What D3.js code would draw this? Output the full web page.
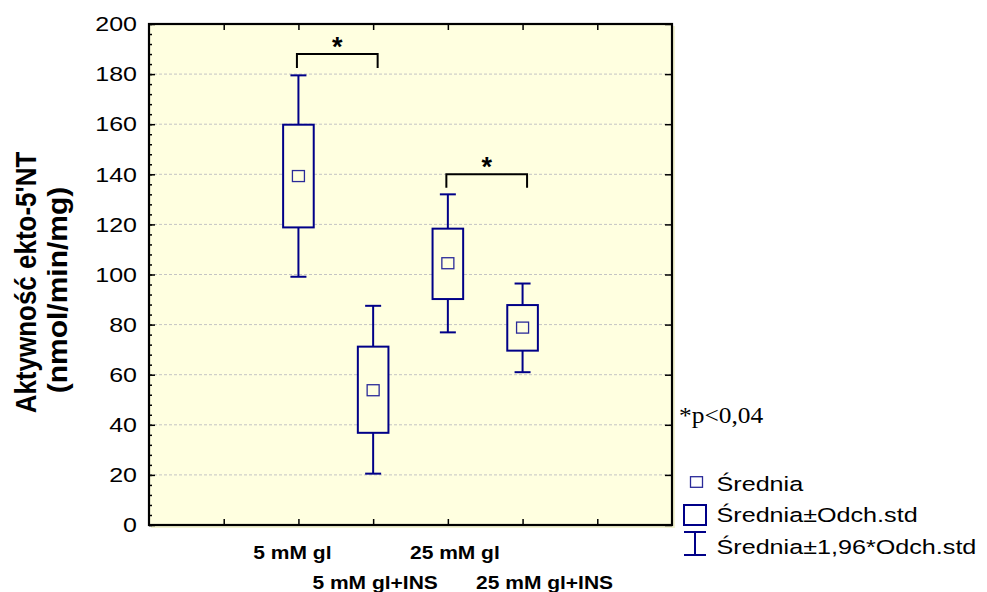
<!DOCTYPE html>
<html><head><meta charset="utf-8">
<script src="https://cdn.jsdelivr.net/npm/d3@7/dist/d3.min.js"></script>
<style>body{margin:0;background:#fff}svg{display:block}</style>
</head><body>
<svg id="chart" width="987" height="592"></svg>
<script>
const categories = ["5 mM gl", "5 mM gl+INS", "25 mM gl", "25 mM gl+INS"];
const means  = [139.3, 53.8, 104.5, 78.8];
const sdLow  = [118.8, 36.8, 90.2, 69.6];
const sdHigh = [159.8, 71.2, 118.3, 87.8];
const ciLow  = [99.1, 20.5, 76.9, 61.0];
const ciHigh = [179.5, 87.5, 132.0, 96.4];
const yTicks = [0, 20, 40, 60, 80, 100, 120, 140, 160, 180, 200];
const bracketPairs = [[0, 1], [2, 3]];
const bracketTop = [188, 140];
const bracketLeg = [182.4, 134.6];
const legendLabels = ["Średnia", "Średnia±Odch.std", "Średnia±1,96*Odch.std"];
const yTitle = ["Aktywność ekto-5'NT", "(nmol/min/mg)"];
const pNote = "*p<0,04";

const svg = d3.select("#chart");
const L = 149, R = 672, T = 24, B = 525;
const x = d3.scaleLinear().domain([0, 7]).range([L, R]);
const y = d3.scaleLinear().domain([0, 200]).range([B, T]);
const pos = i => x(i + 2);
const navy = "#000088";
const bg = "#FFFFE0";
const SX = 1.25;

// shadow + plot background
svg.append("rect").attr("x", L + 2).attr("y", T + 2).attr("width", R - L + 1).attr("height", B - T + 1).attr("fill", "#f2f2d2");
svg.append("rect").attr("x", L).attr("y", T).attr("width", R - L).attr("height", B - T).attr("fill", bg);

// grid
svg.append("g").selectAll("line").data(yTicks.filter(v => v > 0 && v < 200)).join("line")
  .attr("x1", L).attr("x2", R).attr("y1", d => y(d)).attr("y2", d => y(d))
  .attr("stroke", "#c4c4c4").attr("stroke-width", 1).attr("stroke-dasharray", "3,2");

// axes: left with minor ticks inward
const minor = d3.range(0, 201, 4);
const gl = svg.append("g").attr("transform", `translate(${L},0)`)
  .call(d3.axisRight(y).tickValues(minor).tickSize(3).tickFormat(""));
gl.select(".domain").remove();
gl.selectAll("line").attr("stroke", "#000").attr("stroke-width", 1.5);
const glM = svg.append("g").attr("transform", `translate(${L},0)`)
  .call(d3.axisRight(y).tickValues(yTicks).tickSize(6).tickFormat(""));
glM.select(".domain").remove();
glM.selectAll("line").attr("stroke", "#000").attr("stroke-width", 1.5);
// right axis
const gr = svg.append("g").attr("transform", `translate(${R},0)`)
  .call(d3.axisLeft(y).tickValues(yTicks).tickSize(7).tickFormat(""));
gr.select(".domain").remove();
gr.selectAll("line").attr("stroke", "#000").attr("stroke-width", 1.5);
// top & bottom ticks
const xt = [1, 2, 3, 4, 5, 6];
const gt = svg.append("g").attr("transform", `translate(0,${T})`)
  .call(d3.axisBottom(x).tickValues(xt).tickSize(6).tickFormat(""));
gt.select(".domain").remove();
gt.selectAll("line").attr("stroke", "#000").attr("stroke-width", 1.5);
const gb = svg.append("g").attr("transform", `translate(0,${B})`)
  .call(d3.axisTop(x).tickValues(xt).tickSize(6).tickFormat(""));
gb.select(".domain").remove();
gb.selectAll("line").attr("stroke", "#000").attr("stroke-width", 1.5);

// frame
svg.append("rect").attr("x", L).attr("y", T).attr("width", R - L).attr("height", B - T)
  .attr("fill", "none").attr("stroke", "#000").attr("stroke-width", 2.2);

// y tick labels
svg.append("g").selectAll("text").data(yTicks).join("text")
  .attr("transform", d => `translate(137,${y(d)}) scale(${SX},1)`)
  .attr("text-anchor", "end").attr("dy", "0.36em")
  .attr("font-family", "Liberation Sans, Arial, sans-serif").attr("font-size", 20)
  .attr("fill", "#000").text(d => d);

// whiskers
const gw = svg.append("g").attr("stroke", navy).attr("stroke-width", 2).attr("fill", "none");
categories.forEach((c, i) => {
  gw.append("line").attr("x1", pos(i)).attr("x2", pos(i)).attr("y1", y(ciHigh[i])).attr("y2", y(sdHigh[i]));
  gw.append("line").attr("x1", pos(i)).attr("x2", pos(i)).attr("y1", y(sdLow[i])).attr("y2", y(ciLow[i]));
  gw.append("line").attr("x1", pos(i) - 8).attr("x2", pos(i) + 8).attr("y1", y(ciHigh[i])).attr("y2", y(ciHigh[i]));
  gw.append("line").attr("x1", pos(i) - 8).attr("x2", pos(i) + 8).attr("y1", y(ciLow[i])).attr("y2", y(ciLow[i]));
});
// boxes
svg.append("g").selectAll("rect").data(categories).join("rect")
  .attr("x", (d, i) => pos(i) - 15.3).attr("width", 30.6)
  .attr("y", (d, i) => y(sdHigh[i])).attr("height", (d, i) => y(sdLow[i]) - y(sdHigh[i]))
  .attr("fill", bg).attr("stroke", navy).attr("stroke-width", 2);
// means
svg.append("g").selectAll("rect").data(categories).join("rect")
  .attr("x", (d, i) => pos(i) - 6).attr("width", 12)
  .attr("y", (d, i) => y(means[i]) - 5.5).attr("height", 11)
  .attr("fill", "none").attr("stroke", "#2a2a99").attr("stroke-width", 1.3);

// significance brackets
bracketPairs.forEach((p, k) => {
  const x1 = pos(p[0]) - 1.5, x2 = pos(p[1]) + 4.5;
  svg.append("path")
    .attr("d", `M${x1},${y(bracketLeg[k])}V${y(bracketTop[k])}H${x2}V${y(bracketLeg[k])}`)
    .attr("fill", "none").attr("stroke", "#000").attr("stroke-width", 2);
  svg.append("text").attr("x", (x1 + x2) / 2).attr("y", y(bracketTop[k]) + 2)
    .attr("text-anchor", "middle").attr("font-family", "Liberation Sans, Arial, sans-serif")
    .attr("font-weight", "bold").attr("font-size", 27).text("*");
});

// x category labels
const labelDx = [-6, 2, 7, 22];
const labelRow = [559, 589, 559, 589];
svg.append("g").selectAll("text").data(categories).join("text")
  .attr("transform", (d, i) => `translate(${pos(i) + labelDx[i]},${labelRow[i]}) scale(1.2,1)`)
  .attr("text-anchor", "middle").attr("font-family", "Liberation Sans, Arial, sans-serif")
  .attr("font-weight", "bold").attr("font-size", 17.5).text(d => d);

// y title
const yTitleX = [36, 67];
const yTitleSize = [26, 30];
const yTitleSX = [1.15, 0.95];
const yTitleY = [(T + B) / 2 + 8, 290];
yTitle.forEach((t, k) => {
  svg.append("text")
    .attr("transform", `translate(${yTitleX[k]},${yTitleY[k]}) scale(${yTitleSX[k]},1) rotate(-90)`)
    .attr("text-anchor", "middle").attr("font-family", "Liberation Sans, Arial, sans-serif")
    .attr("font-weight", "bold").attr("font-size", yTitleSize[k]).text(t);
});

// p note
svg.append("text").attr("transform", "translate(679,423) scale(1.13,1)")
  .attr("font-family", "Liberation Serif, Times New Roman, serif").attr("font-size", 22.5).text(pNote);

// legend
const lgY = [490.7, 521.7, 554];
svg.append("g").selectAll("text").data(legendLabels).join("text")
  .attr("transform", (d, i) => `translate(716.5,${lgY[i]}) scale(1.29,1)`)
  .attr("font-family", "Liberation Sans, Arial, sans-serif").attr("font-size", 19.5).text(d => d);
svg.append("rect").attr("x", 690.5).attr("y", 476.7).attr("width", 12).attr("height", 10.6)
  .attr("fill", "none").attr("stroke", "#2a2a99").attr("stroke-width", 1.3);
svg.append("rect").attr("x", 684).attr("y", 505).attr("width", 22).attr("height", 20)
  .attr("fill", "none").attr("stroke", navy).attr("stroke-width", 2);
svg.append("path").attr("d", "M684,532H706M695,532V555M684,555H706")
  .attr("fill", "none").attr("stroke", navy).attr("stroke-width", 2);
</script>
</body></html>
